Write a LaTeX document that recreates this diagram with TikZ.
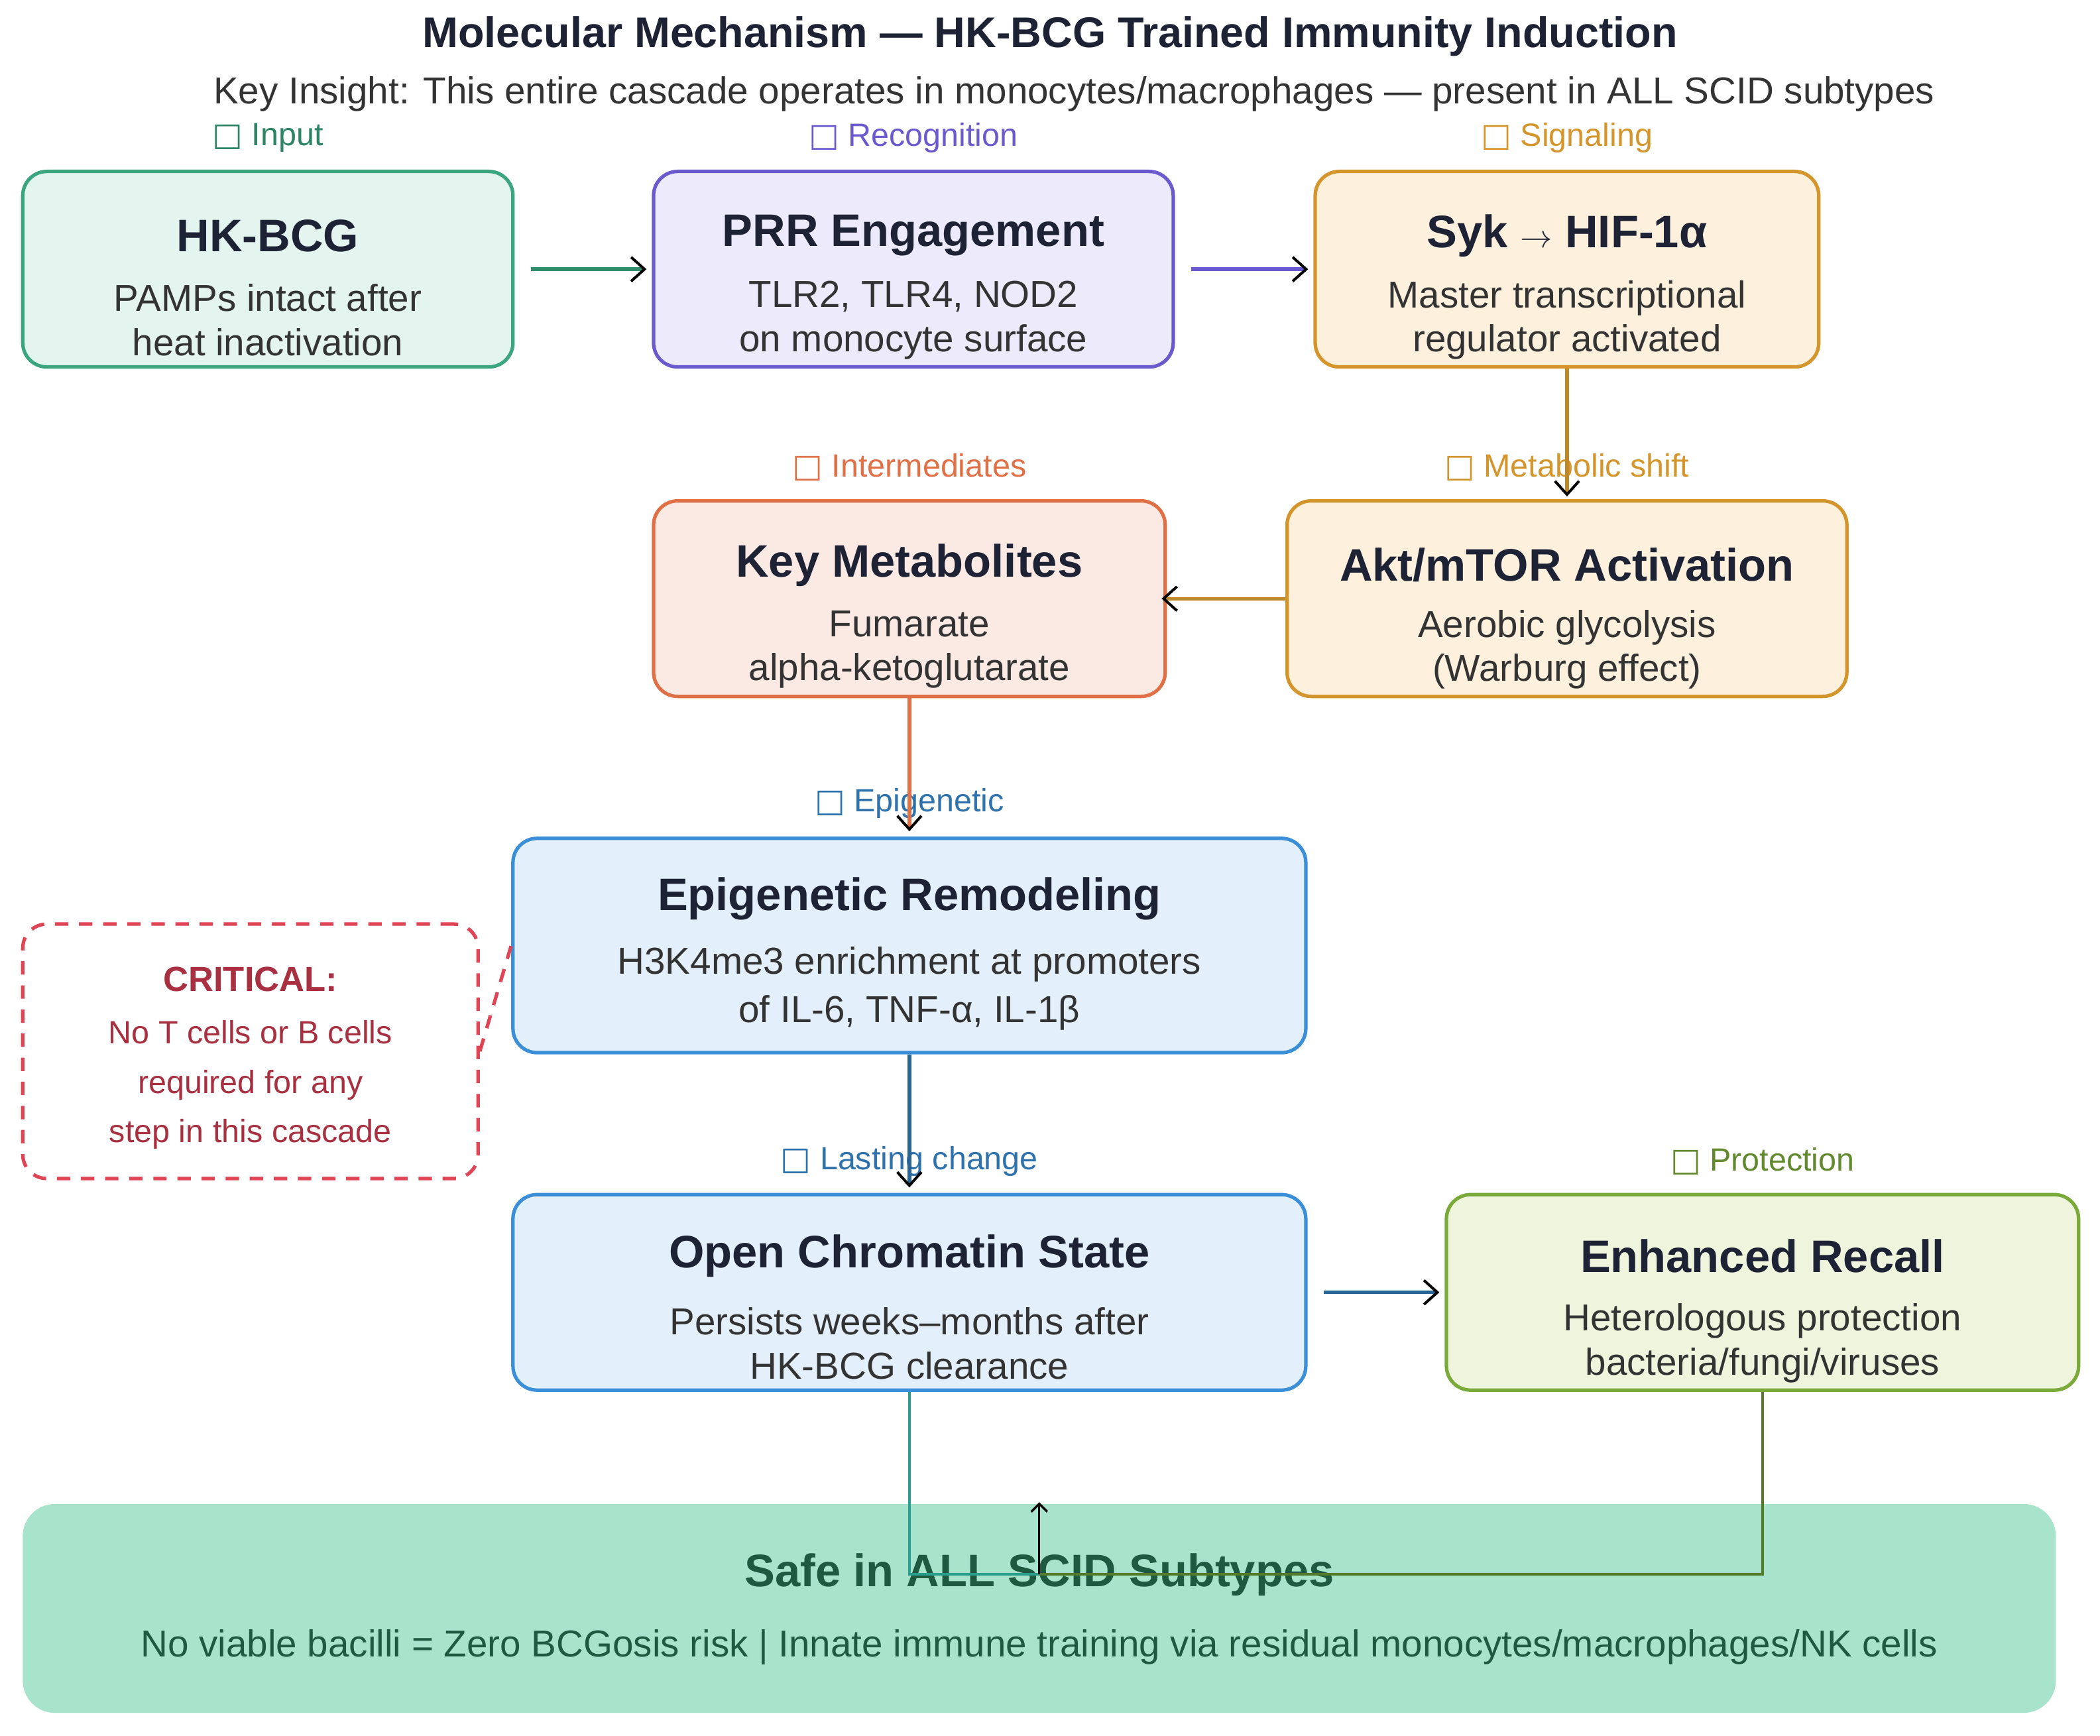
\documentclass[tikz,border=0pt]{standalone}
\usepackage{fontspec}
\setmainfont{Liberation Sans}
\newfontfamily\dejavu{DejaVu Sans}
\usetikzlibrary{arrows.meta,calc}
\definecolor{ttl}{HTML}{1E2235}
\definecolor{txt}{HTML}{333333}
\definecolor{gB}{HTML}{3AA57F}\definecolor{gF}{HTML}{E4F5EF}
\definecolor{pB}{HTML}{6A5ACD}\definecolor{pF}{HTML}{EDEBFB}
\definecolor{oB}{HTML}{D4962C}\definecolor{oF}{HTML}{FDF0DC}
\definecolor{rB}{HTML}{E07045}\definecolor{rF}{HTML}{FBEAE3}
\definecolor{bB}{HTML}{3A8FD8}\definecolor{bF}{HTML}{E3EFFA}
\definecolor{lB}{HTML}{7AAB3A}\definecolor{lF}{HTML}{EEF5DC}
\definecolor{sF}{HTML}{A8E4CC}\definecolor{sT}{HTML}{1E5A40}
\definecolor{cB}{HTML}{E04555}\definecolor{cT}{HTML}{A83040}
\definecolor{tl}{HTML}{2A9D8F}
\newcommand{\gly}{{\dejavu\char"25A1}}
\begin{document}
\begin{tikzpicture}[x=0.5pt,y=-0.5pt,
  box/.style={draw, line width=1.3pt, rounded corners=9pt, align=center,
    font=\fontsize{14}{16.5}\selectfont, text=txt, inner sep=0pt},
  hd/.style={font=\fontsize{17}{20}\bfseries\selectfont, text=ttl},
  lab/.style={font=\fontsize{12}{14}\selectfont},
  arr/.style={line width=1.3pt, -{Straight Barb[black,length=5pt,width=9pt,line width=1pt]}}]
\useasboundingbox (0,0) rectangle (1568,1296);
\node[font=\fontsize{16}{19}\bfseries\selectfont, text=ttl] (title) at (784,27) {Molecular Mechanism — HK-BCG Trained Immunity Induction};
\node[font=\fontsize{14}{17}\selectfont, text=txt] (sub) at (802,70) {Key Insight: This entire cascade operates in monocytes/macrophages — present in ALL SCID subtypes};

\node[box, draw=gB, fill=gF, minimum width=183pt, minimum height=73pt] (hk) at (200,201) {};
\node[hd] at (200,176) {HK-BCG};
\node[box, draw=none, fill=none] at (200,239) {PAMPs intact after\\heat inactivation};
\node[box, draw=pB, fill=pF, minimum width=194pt, minimum height=73pt] (prr) at (682,201) {};
\node[hd] at (682,176) {PRR Engagement};
\node[box, draw=none, fill=none] at (682,239) {TLR2, TLR4, NOD2\\on monocyte surface};
\node[box, draw=oB, fill=oF, minimum width=188pt, minimum height=73pt] (syk) at (1170,201) {};
\node[hd] at (1170,176) {Syk {\normalfont\fontsize{13}{15}\selectfont$\rightarrow$} HIF-1α};
\node[box, draw=none, fill=none] at (1170,239) {Master transcriptional\\regulator activated};

\node[box, draw=rB, fill=rF, minimum width=191pt, minimum height=73pt] (km) at (679,447) {};
\node[hd] at (679,422) {Key Metabolites};
\node[box, draw=none, fill=none] at (679,485) {Fumarate\\alpha-ketoglutarate};
\node[box, draw=oB, fill=oF, minimum width=209pt, minimum height=73pt] (akt) at (1170,447) {};
\node[hd] at (1170,422) {Akt/mTOR Activation};
\node[box, draw=none, fill=none] at (1170,485) {Aerobic glycolysis\\(Warburg effect)};

\node[box, draw=bB, fill=bF, minimum width=296pt, minimum height=80pt] (epi) at (679,706) {};
\node[hd] at (679,671) {Epigenetic Remodeling};
\node[box, draw=none, fill=none, font=\fontsize{14}{18}\selectfont] at (679,738) {H3K4me3 enrichment at promoters\\of IL-6, TNF-α, IL-1β};
\node[box, draw=cB, fill=white, dashed, dash pattern=on 5pt off 4pt, minimum width=170pt, minimum height=95pt] (crit) at (187,785) {};
\node[font=\fontsize{13}{15}\bfseries\selectfont, text=cT] at (187,731) {CRITICAL:};
\node[align=center, font=\fontsize{12}{18.5}\selectfont, text=cT] at (187,810) {No T cells or B cells\\required for any\\step in this cascade};
\draw[cB, line width=1.3pt, dash pattern=on 5pt off 4pt] (crit.east) -- (epi.west);

\node[box, draw=bB, fill=bF, minimum width=296pt, minimum height=73pt] (oc) at (679,965) {};
\node[hd] at (679,938) {Open Chromatin State};
\node[box, draw=none, fill=none] at (679,1003) {Persists weeks–months after\\HK-BCG clearance};
\node[box, draw=lB, fill=lF, minimum width=236pt, minimum height=73pt] (er) at (1316,965) {};
\node[hd] at (1316,938) {Enhanced Recall};
\node[box, draw=none, fill=none] at (1316,1003) {Heterologous protection\\bacteria/fungi/viruses};

\node[box, draw=none, fill=sF, rounded corners=12pt, minimum width=759pt, minimum height=78pt] (safe) at (776,1201) {};
\node[hd, text=sT] at (776,1176) {Safe in ALL SCID Subtypes};
\node[font=\fontsize{14}{17}\selectfont, text=sT] at (776,1230) {No viable bacilli = Zero BCGosis risk | Innate immune training via residual monocytes/macrophages/NK cells};

\node[lab, text=gB!80!black] at (200,103) {\gly{} Input};
\node[lab, text=pB] at (682,103) {\gly{} Recognition};
\node[lab, text=oB] at (1170,103) {\gly{} Signaling};
\node[lab, text=rB] at (679,349) {\gly{} Intermediates};
\node[lab, text=oB] at (1170,349) {\gly{} Metabolic shift};
\node[lab, text=bB!80!black] at (679,600) {\gly{} Epigenetic};
\node[lab, text=bB!80!black] at (679,867) {\gly{} Lasting change};
\node[lab, text=lB!80!black] at (1316,867) {\gly{} Protection};

\draw[arr, gB!85!black] ([xshift=6pt]hk.east) -- ([xshift=-2pt]prr.west);
\draw[arr, pB] ([xshift=6pt]prr.east) -- ([xshift=-2pt]syk.west);
\draw[arr, oB!90!black] (syk.south) -- ([yshift=1pt]akt.north);
\draw[arr, oB!90!black] (akt.west) -- ([xshift=-2pt]km.east);
\draw[arr, rB] (km.south) -- ([yshift=2pt]epi.north);
\draw[arr, bB!70!black] (epi.south) -- ([yshift=2pt]oc.north);
\draw[arr, bB!70!black] ([xshift=6pt]oc.east) -- ([xshift=-2pt]er.west);
\coordinate (j) at ($(safe.north)+(0,-27pt)$);
\draw[line width=1pt, tl] (oc.south) |- (j);
\draw[line width=1pt, lB!70!black] (er.south) |- (j);
\draw[line width=0.8pt, -{Straight Barb[black,length=3pt,width=6pt,line width=0.8pt]}] (j) -- (safe.north);
\end{tikzpicture}
\end{document}
